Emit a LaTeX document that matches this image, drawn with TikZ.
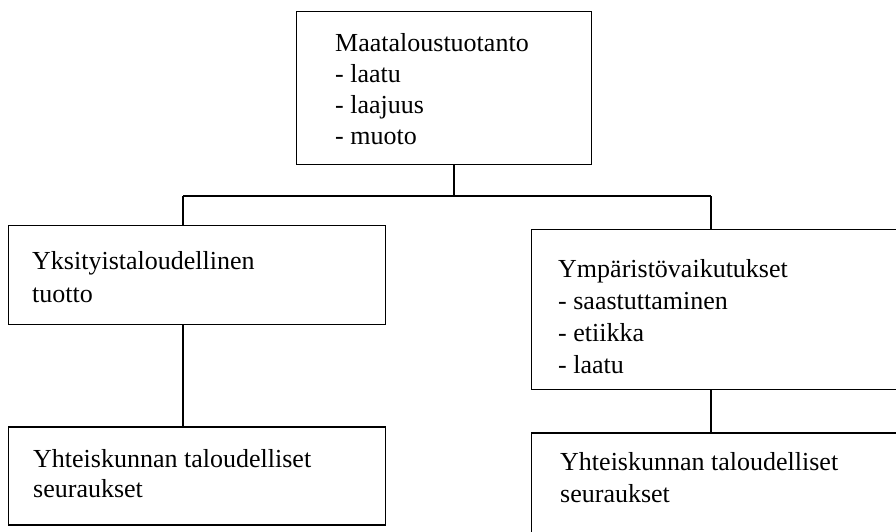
\documentclass[tikz,border=0pt]{standalone}
\usepackage{fontspec}
\setmainfont{Liberation Serif}
\usetikzlibrary{positioning}
\tikzset{
  box/.style={draw, rectangle, line width=1.3pt, inner sep=0pt, anchor=north west},
  txt/.style={inner sep=0pt, align=left, font=\fontsize{26}{31}\selectfont},
  link/.style={line width=1.1pt}
}

\begin{document}
\begin{tikzpicture}[x=1pt,y=1pt]
  \clip (0,0) rectangle (896,531);
  % boxes
  \node (prod) [box, minimum width=295pt, minimum height=153pt] at (296,520) {};
  \node (priv) [box, minimum width=377pt, minimum height=99pt] at (8,306) {};
  \node (privsoc) [box, minimum width=377pt, minimum height=98pt,
    below=101pt of priv.south west, anchor=north west] {};
  \node (env) [box, minimum width=374pt, minimum height=160pt] at (531,302) {};
  \node (envsoc) [box, minimum width=376pt, minimum height=110pt,
    below=42pt of env.south west, anchor=north west] {};
  % texts
  \node (prodtxt) [txt, below right=22pt and 39pt of prod.north west]
    {Maataloustuotanto\\- laatu\\- laajuus\\- muoto};
  \node (privtxt) [txt, font=\fontsize{26}{33}\selectfont,
    below right=26pt and 24pt of priv.north west]
    {Yksityistaloudellinen\\tuotto};
  \node (privsoctxt) [txt, font=\fontsize{26}{30}\selectfont,
    below right=23pt and 25pt of privsoc.north west]
    {Yhteiskunnan taloudelliset\\seuraukset};
  \node (envtxt) [txt, font=\fontsize{26}{32}\selectfont,
    below right=30pt and 27pt of env.north west]
    {Ympäristövaikutukset\\- saastuttaminen\\- etiikka\\- laatu};
  \node (envsoctxt) [txt, font=\fontsize{26}{32}\selectfont,
    below right=20pt and 29pt of envsoc.north west]
    {Yhteiskunnan taloudelliset\\seuraukset};
  % connectors
  \coordinate (fork) at (454,335);
  \coordinate (forkL) at (183,335);
  \coordinate (forkR) at (711,335);
  \draw[link] (prod.south -| fork) -- (fork);
  \draw[link] (forkL) -- (forkR);
  \draw[link] (forkL) -- (priv.north -| forkL);
  \draw[link] (forkR) -- (env.north -| forkR);
  \draw[link] (priv.south -| forkL) -- (privsoc.north -| forkL);
  \draw[link] (env.south -| forkR) -- (envsoc.north -| forkR);
\end{tikzpicture}
\end{document}
